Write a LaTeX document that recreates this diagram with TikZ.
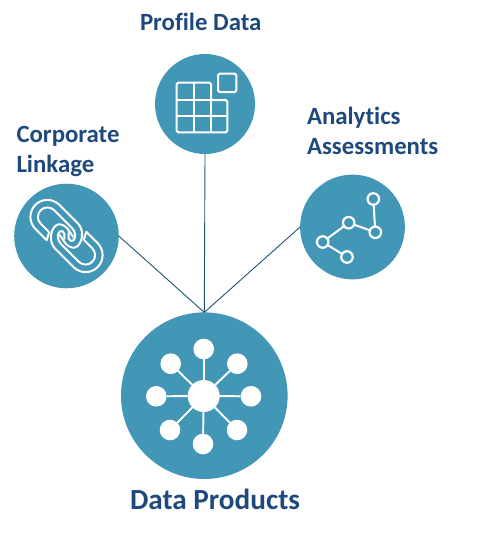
\documentclass[tikz,border=0pt]{standalone}
\usepackage{fontspec}
\setmainfont[RawFeature={-liga;-clig;-dlig}]{Carlito}
\definecolor{teal1}{HTML}{4296B6}
\definecolor{navy1}{HTML}{1F497D}
\definecolor{line1}{HTML}{1B5673}
\tikzset{
  disc/.style={circle,fill=teal1,inner sep=0pt,outer sep=0pt,minimum size=#1},
  label1/.style={text=navy1,font=\bfseries\fontsize{24.8}{30}\selectfont,inner sep=0pt,outer sep=0pt,anchor=base west},
  link1/.style={draw=line1,line width=0.9pt},
  icon/.style={draw=white,line width=2pt,line join=round},
  hubline/.style={draw=white,line width=1.9pt},
  hubdot/.style={circle,fill=white,inner sep=0pt,outer sep=0pt,minimum size=20.6pt},
  gdot/.style={circle,draw=white,fill=teal1,line width=2.2pt,inner sep=0pt,outer sep=0pt,minimum size=11.5pt},
}
\newcommand{\chainlink}{%
  \draw[icon] (-15,-9.5) -- (-11,-17) -- (-27,-17) arc[start angle=-90,end angle=-270,radius=17] -- (-1,17)
     .. controls (7,17) and (15,9) .. (15,1) .. controls (15,-4) and (10,-6) .. (5,-6) -- (-6,-4);
  \draw[icon] (-15,-9.5) -- (-27,-9.5) arc[start angle=-90,end angle=-270,radius=9.5] -- (-2,9.5)
     .. controls (4,9.5) and (8,5.5) .. (8,1.5) .. controls (8,-1) and (5,-1) .. (3,0) -- (-1,4);
}
\begin{document}
\begin{tikzpicture}[x=1pt,y=-1pt]
\useasboundingbox (0,0) rectangle (503,535);
\node[disc=100pt] (top) at (205,104) {};
\node[disc=104.6pt] (left) at (66.5,236) {};
\node[disc=104.8pt] (right) at (352.5,227) {};
\node[disc=166.6pt] (hub) at (204.3,395.7) {};
\draw[link1] (top.south) -- (hub.north);
\draw[link1] (left.east) -- (hub.north);
\draw[link1] (right.west) -- (hub.north);
% labels
\node[label1] (tp) at (140,31) {Profile Data};
\node[label1] (c1) at (16.5,142) {Corporate};
\node[label1] (c2) at (16.5,172) {Linkage};
\node[label1] (a1) at (307,124) {Analytics};
\node[label1] (a2) at (307,154) {Assessments};
\node[label1,font=\bfseries\fontsize{29.2}{32}\selectfont] (dp) at (130,509) {Data Products};
% table icon
\draw[icon,rounded corners=1.5pt] (176.7,82.7) -- (211,82.7) -- (211,100) -- (227.3,100) -- (227.3,132.3) -- (176.7,132.3) -- cycle;
\draw[icon] (176.7,100) -- (211,100) (176.7,115.5) -- (227.3,115.5);
\draw[icon] (193.7,82.7) -- (193.7,132.3) (211,100) -- (211,132.3);
\draw[icon,rounded corners=1.5pt] (218,73.7) rectangle (236.3,92);
% link icon
\begin{scope}[shift={(66.5,236)},x={(.7071pt,-.7071pt)},y={(.7071pt,.7071pt)}]
\chainlink
\end{scope}
\begin{scope}[shift={(66.5,236)},x={(-.7071pt,.7071pt)},y={(-.7071pt,-.7071pt)}]
\chainlink
\end{scope}
% graph icon
\node[gdot] (g1) at (373.3,199) {};
\node[gdot] (g2) at (375.3,232.3) {};
\node[gdot] (g3) at (348.7,222.7) {};
\node[gdot] (g4) at (322.7,242) {};
\node[gdot] (g5) at (347,257) {};
\draw[icon] (g1) -- (g2) (g2) -- (g3) (g3) -- (g4) (g4) -- (g5);
% hub icon
\node[hubdot,minimum size=32pt] (h0) at (203.7,396) {};
\node[hubdot] (h1) at (203.7,349) {};
\node[hubdot] (h2) at (170.7,363.7) {};
\node[hubdot] (h3) at (237.3,363.7) {};
\node[hubdot] (h4) at (156.3,396.3) {};
\node[hubdot] (h5) at (251,396.3) {};
\node[hubdot] (h6) at (170,430) {};
\node[hubdot] (h7) at (237,430) {};
\node[hubdot] (h8) at (203,444) {};
\foreach \n in {1,...,8} \draw[hubline] (h0) -- (h\n);
\end{tikzpicture}
\end{document}
